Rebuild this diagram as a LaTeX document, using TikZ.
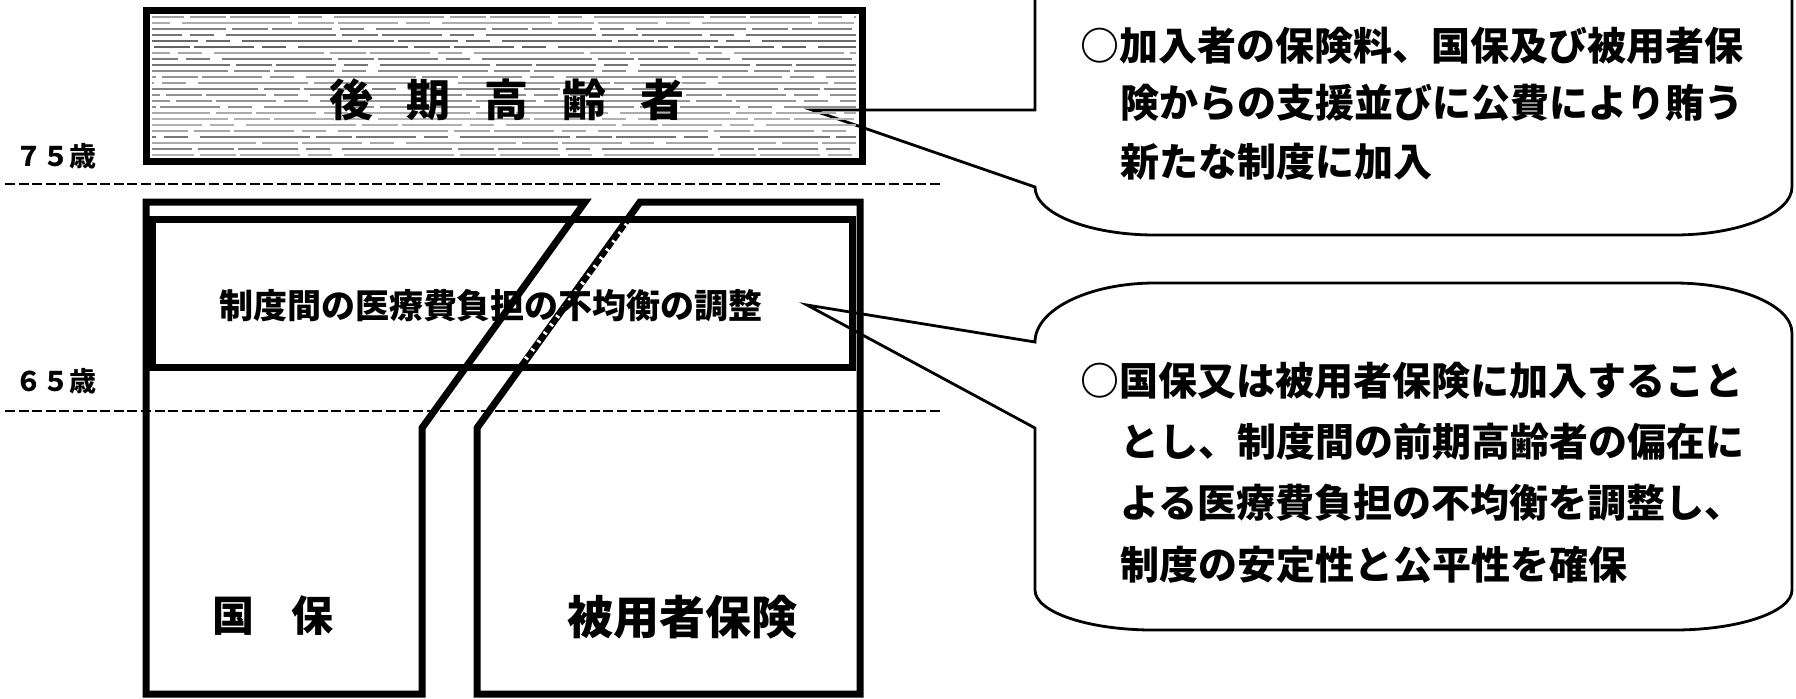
\documentclass[tikz,border=0pt]{standalone}
\usepackage{fontspec}
\newfontfamily\jp{Noto Sans CJK JP}
\begin{document}
\begin{tikzpicture}[x=0.5pt,y=-0.5pt,
  box/.style={line width=3.5pt, line join=miter},
  call/.style={line width=1.4pt, line join=miter},
  ageline/.style={line width=1.3pt, dash pattern=on 5pt off 1.8pt},
  agetext/.style={font=\jp\bfseries\fontsize{13.5pt}{13.5pt}\selectfont, inner sep=0pt},
  ctext/.style={font=\jp\bfseries\fontsize{19.5pt}{19.5pt}\selectfont, inner sep=0pt, anchor=west}]
\useasboundingbox (0,0) rectangle (1796,698);
\clip (0,0) rectangle (1796,698);
\pgfmathsetseed{42}

% callouts
\draw[call] (1035,-10) -- (1035,110) -- (812,110) -- (1035,187)
  .. controls (1035,213.5) and (1089,235) .. (1155,235) -- (1674,235)
  .. controls (1739,235) and (1792,213.5) .. (1792,187) -- (1792,-10);
\draw[call] (1035,342) -- (807,305) -- (1035,428) -- (1035,590)
  .. controls (1035,612) and (1088,630) .. (1153,630) -- (1674,630)
  .. controls (1739,630) and (1792,612) .. (1792,590) -- (1792,333)
  .. controls (1792,305.4) and (1739,283) .. (1674,283) -- (1155,283)
  .. controls (1089,283) and (1035,309.4) .. (1035,342) -- cycle;

% top box (75+), scanned hatch texture
\foreach \yy [evaluate=\yy as \g using {int(30+35*rnd)},
              evaluate=\yy as \ph using {int(120*rnd)}] in {17,23,...,155}
  \draw[black!\g, line width=0.75pt, dash pattern=on 55pt off 3pt on 18pt off 2pt on 30pt off 4pt on 12pt off 6pt, dash phase=\ph pt] (152,\yy) -- (856,\yy);
\draw[box] (146,10) rectangle (862,161);
\node[font=\jp\bfseries\fontsize{22pt}{22pt}\selectfont, inner sep=0pt] (koki) at (507,100) {後\hspace{17pt}期\hspace{17pt}高\hspace{17pt}齢\hspace{17pt}者};

% age lines
\coordinate (a75l) at (5,184); \coordinate (a75r) at (943,184);
\coordinate (a65l) at (5,411); \coordinate (a65r) at (943,411);
\draw[ageline] (a75l) -- (a75r);
\draw[ageline] (a65l) -- (a65r);
\node[agetext] (age75) at (56,156) {７５歳};
\node[agetext] (age65) at (56,381) {６５歳};

% lower shapes
\draw[box] (146,202) -- (585,202) -- (422,428) -- (422,694) -- (146,694) -- cycle;
\draw[box] (640,202) -- (860,202) -- (860,694) -- (477,694) -- (477,428) -- cycle;
\draw[white, line width=2.2pt, dash pattern=on 1.2pt off 4pt] (627,224) -- (522,364);
\draw[box] (152,219) rectangle (852,367);

\node[font=\jp\bfseries\fontsize{17pt}{17pt}\selectfont, inner sep=0pt] (chosei) at (491,306) {制度間の医療費負担の不均衡の調整};
\node[font=\jp\bfseries\fontsize{21pt}{21pt}\selectfont, inner sep=0pt] (kokuho) at (273,616) {国\hspace{19pt}保};
\node[font=\jp\bfseries\fontsize{23pt}{23pt}\selectfont, inner sep=0pt] (hiyo) at (682,617) {被用者保険};

% callout texts
\node[ctext] (u1) at (1080,46) {○加入者の保険料、国保及び被用者保};
\node[ctext] (u2) at (1120,103) {険からの支援並びに公費により賄う};
\node[ctext] (u3) at (1120,162) {新たな制度に加入};
\node[ctext] (l1) at (1080,381) {○国保又は被用者保険に加入すること};
\node[ctext] (l2) at (1120,442) {とし、制度間の前期高齢者の偏在に};
\node[ctext] (l3) at (1120,503) {よる医療費負担の不均衡を調整し、};
\node[ctext] (l4) at (1120,565) {制度の安定性と公平性を確保};
\end{tikzpicture}
\end{document}
